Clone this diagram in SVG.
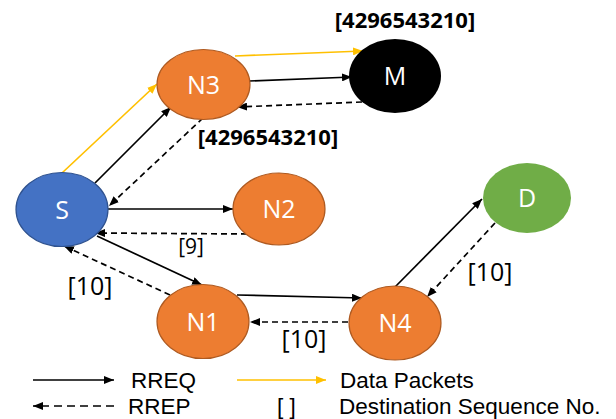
<svg xmlns="http://www.w3.org/2000/svg" width="616" height="419" viewBox="0 0 616 419">
<style>
.lbl{font-family:"Open Sans","Liberation Sans",sans-serif;font-size:25px;fill:#fff;text-anchor:middle}
.txt{font-family:"Open Sans","Liberation Sans",sans-serif;fill:#000}
.b{font-weight:bold;font-size:22px;text-anchor:middle}
.n{font-size:25px;text-anchor:middle}
.lg{font-family:"Liberation Sans",Arial,sans-serif;font-size:22.5px}
.orange{fill:#ED7D31;stroke:#AE5A21;stroke-width:1.2}
.sol{stroke:#000;stroke-width:1.7;fill:none}
.dash{stroke:#000;stroke-width:1.7;fill:none;stroke-dasharray:6 4}
.ldash{stroke:#000;stroke-width:1.7;fill:none;stroke-dasharray:8 5}
.yel{stroke:#FFC000;stroke-width:1.7;fill:none}
</style>
<defs>
<marker id="ak" viewBox="0 0 10 8" refX="10" refY="4" markerWidth="10" markerHeight="8" markerUnits="userSpaceOnUse" orient="auto"><path d="M0,0 L10,4 L0,8 z" fill="#000"/></marker>
<marker id="ay" viewBox="0 0 10 8" refX="10" refY="4" markerWidth="10" markerHeight="8" markerUnits="userSpaceOnUse" orient="auto"><path d="M0,0 L10,4 L0,8 z" fill="#FFC000"/></marker>
</defs>
<g id="connectors">
<line class="yel" x1="62" y1="173" x2="157" y2="84" marker-end="url(#ay)"/>
<line class="sol" x1="95" y1="183" x2="171" y2="107" marker-end="url(#ak)"/>
<line class="dash" x1="203" y1="118" x2="109" y2="206" marker-end="url(#ak)"/>
<line class="sol" x1="249" y1="81" x2="352" y2="77" marker-end="url(#ak)"/>
<line class="yel" x1="235" y1="56" x2="363" y2="51" marker-end="url(#ay)"/>
<line class="dash" x1="362" y1="102" x2="237" y2="107" marker-end="url(#ak)"/>
<line class="sol" x1="108" y1="209" x2="233" y2="209" marker-end="url(#ak)"/>
<line class="dash" x1="247" y1="234" x2="95" y2="233" marker-end="url(#ak)"/>
<line class="sol" x1="97" y1="236" x2="202" y2="285" marker-end="url(#ak)"/>
<line class="dash" x1="170" y1="295" x2="64" y2="246" marker-end="url(#ak)"/>
<line class="sol" x1="237" y1="295" x2="362" y2="298" marker-end="url(#ak)"/>
<line class="dash" x1="348" y1="322" x2="250" y2="322" marker-end="url(#ak)"/>
<line class="sol" x1="395" y1="287" x2="482" y2="199" marker-end="url(#ak)"/>
<line class="dash" x1="495" y1="223" x2="427" y2="297" marker-end="url(#ak)"/>
</g>
<g id="node-S"><ellipse cx="62" cy="209.5" rx="46" ry="37" fill="#4472C4" stroke="#2F528F" stroke-width="1.2"/><text class="lbl" x="62" y="219">S</text></g>
<g id="node-N3"><ellipse class="orange" cx="203.5" cy="84.5" rx="46.5" ry="35"/><text class="lbl" x="203.5" y="93.5">N3</text></g>
<g id="node-M"><ellipse cx="395" cy="76" rx="46" ry="37" fill="#000"/><text class="lbl" x="395" y="85">M</text></g>
<g id="node-N2"><ellipse class="orange" cx="279" cy="209" rx="46" ry="36"/><text class="lbl" x="279" y="218">N2</text></g>
<g id="node-D"><ellipse cx="527" cy="198" rx="44" ry="35" fill="#70AD47"/><text class="lbl" x="527" y="207">D</text></g>
<g id="node-N1"><ellipse class="orange" cx="203" cy="321.5" rx="46" ry="37"/><text class="lbl" x="203" y="330.5">N1</text></g>
<g id="node-N4"><ellipse class="orange" cx="395" cy="323" rx="46" ry="37"/><text class="lbl" x="395" y="332">N4</text></g>
<g id="labels">
<text class="txt b" x="405" y="28">[4296543210]</text>
<text class="txt b" x="268" y="145">[4296543210]</text>
<text class="txt" x="191" y="254" font-size="21" text-anchor="middle">[9]</text>
<text class="txt n" x="90" y="295">[10]</text>
<text class="txt n" x="490" y="281">[10]</text>
<text class="txt n" x="304" y="348">[10]</text>
</g>
<g id="legend">
<line class="sol" x1="33" y1="380" x2="114" y2="380" marker-end="url(#ak)"/>
<line class="yel" x1="237" y1="380" x2="326" y2="380" marker-end="url(#ay)"/>
<line class="ldash" x1="114" y1="406" x2="33" y2="406" marker-end="url(#ak)"/>
<text class="txt lg" x="131" y="388">RREQ</text>
<text class="txt lg" x="128" y="414">RREP</text>
<text class="txt lg" x="340" y="388">Data Packets</text>
<text class="txt lg" x="277" y="414">[ ]</text>
<text class="txt lg" x="339" y="414">Destination Sequence No.</text>
</g>
</svg>
